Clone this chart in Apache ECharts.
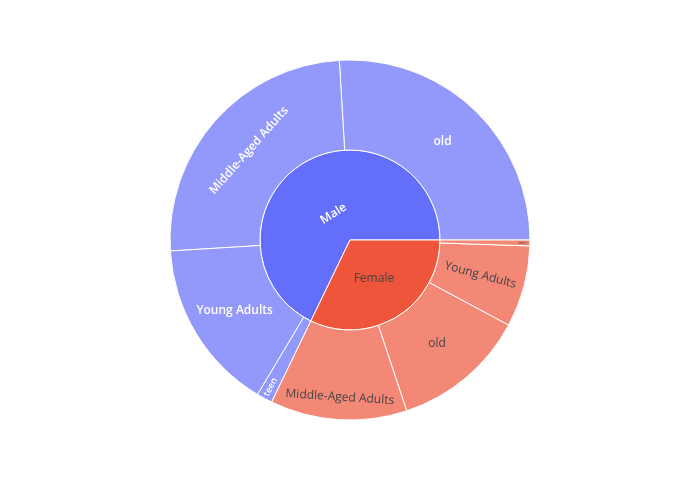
<!DOCTYPE html>
<html>
<head>
<meta charset="utf-8">
<script src="https://cdn.jsdelivr.net/npm/echarts@6/dist/echarts.min.js"></script>
<style>
  html, body { margin: 0; padding: 0; background: #fff; }
  #chart { width: 700px; height: 500px; }
</style>
</head>
<body>
<div id="chart"></div>
<script>
// data (counts)
var genders = ["Male", "Female"];
var genderColors = ["#636efa", "#ef553b"];
var childColors = ["#9299fb", "#f48876"];
var labelColors = ["#fff", "#444"];
var labelWeights = [600, "normal"];

var maleAges = ["old", "Middle-Aged Adults", "Young Adults", "teen"];
var maleCounts = [934, 901, 556, 51];
var femaleAges = ["Middle-Aged Adults", "old", "Young Adults", "teen"];
var femaleCounts = [442, 434, 263, 19];

// label rotations, same order as the age lists
var maleRotate = [0, "tangential", 0, "radial"];
var femaleRotate = ["tangential", 0, "radial", "radial"];

(function() {
  var myChart = echarts.init(document.getElementById("chart"));

  var ages = [maleAges, femaleAges];
  var counts = [maleCounts, femaleCounts];
  var rotates = [maleRotate, femaleRotate];
  var genderRotate = ["tangential", 0];

  // leading empty lines nudge a label down inside its rotated box
  function pushDown(lines) {
    var pre = new Array(lines + 1).join("\n");
    return function(p) { return pre + p.name; };
  }

  var data = [];
  for (var g = 0; g < genders.length; g++) {
    var children = [];
    for (var i = 0; i < ages[g].length; i++) {
      var small = counts[g][i] < 60;
      var lbl = {
        rotate: rotates[g][i],
        color: labelColors[g],
        fontWeight: labelWeights[g],
        fontSize: small ? (counts[g][i] < 30 ? 4 : 9) : 12
      };
      if (small) {
        // thin slices: text sits near the outer rim
        lbl.align = "right";
        lbl.distance = 3;
      }
      if (g === 1 && i === 0) {
        lbl.formatter = pushDown(3);
        lbl.lineHeight = 15;
      }
      children.push({
        name: ages[g][i],
        value: counts[g][i],
        itemStyle: { color: childColors[g] },
        label: lbl
      });
    }
    data.push({
      name: genders[g],
      itemStyle: { color: genderColors[g] },
      label: {
        rotate: genderRotate[g],
        color: labelColors[g],
        fontWeight: labelWeights[g],
        formatter: g === 0 ? pushDown(2) : "{b}",
        lineHeight: 14
      },
      children: children
    });
  }

  var option = {
    animation: false,
    series: [
      {
        type: "sunburst",
        center: [350, 240],
        radius: [0, 180],
        startAngle: 0,
        clockwise: false,
        sort: null,
        nodeClick: false,
        data: data,
        itemStyle: {
          borderColor: "#fff",
          borderWidth: 1
        },
        label: {
          fontFamily: "Open Sans",
          fontSize: 12
        },
        levels: [
          {},
          { r0: 0, r: 90 },
          { r0: 90, r: 180 }
        ]
      }
    ]
  };

  myChart.setOption(option);
})();
</script>
</body>
</html>
